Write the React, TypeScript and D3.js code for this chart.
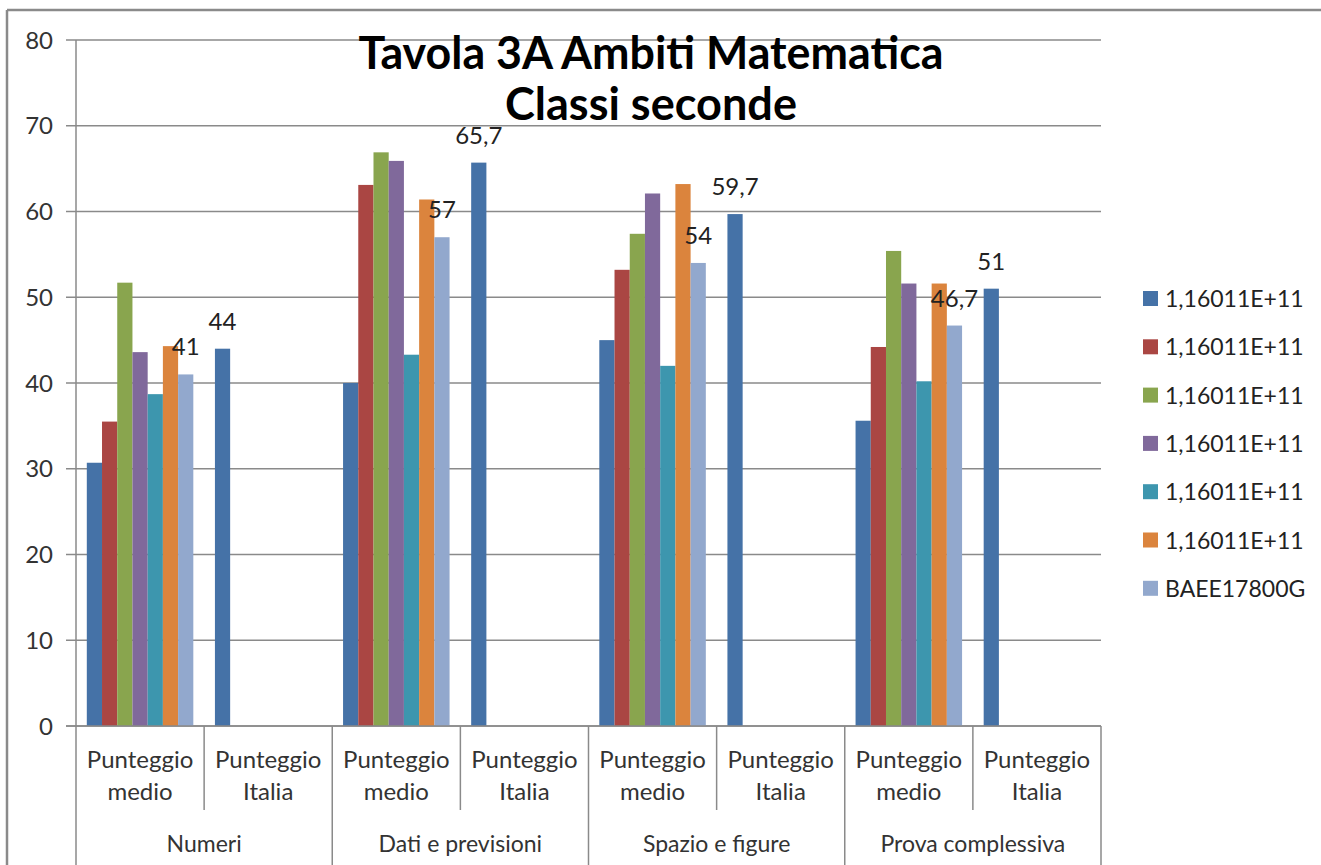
import React from "react";
import * as d3 from "d3";

const groups = ["Numeri", "Dati e previsioni", "Spazio e figure", "Prova complessiva"];
const subCategories = [["Punteggio", "medio"], ["Punteggio", "Italia"]];
const seriesNames = [
  "1,16011E+11",
  "1,16011E+11",
  "1,16011E+11",
  "1,16011E+11",
  "1,16011E+11",
  "1,16011E+11",
  "BAEE17800G",
];
const colors = ["#4572A7", "#AA4643", "#89A54E", "#80699B", "#3D96AE", "#DB843D", "#92A8CD"];

// "Punteggio medio" values per group, one array per series
const medio1 = [30.7, 40.0, 45.0, 35.6];
const medio2 = [35.5, 63.1, 53.2, 44.2];
const medio3 = [51.7, 66.9, 57.4, 55.4];
const medio4 = [43.6, 65.9, 62.1, 51.6];
const medio5 = [38.7, 43.3, 42.0, 40.2];
const medio6 = [44.3, 61.4, 63.2, 51.6];
const medio7 = [41, 57, 54, 46.7];
// "Punteggio Italia" (only first series)
const italia1 = [44, 65.7, 59.7, 51];

const yTicks = [0, 10, 20, 30, 40, 50, 60, 70, 80];
const titleLines = ["Tavola 3A Ambiti Matematica", "Classi seconde"];

const medioSeries = [medio1, medio2, medio3, medio4, medio5, medio6, medio7];

const fmt = (v: number) => String(v).replace(".", ",");

export default function App() {
  const W = 1321;
  const H = 865;
  const left = 76;
  const right = 1101;
  const top = 40;
  const bottom = 726;
  const font = "Lato, 'Open Sans', sans-serif";
  const grey = "#8a8a8a";

  const catKeys: string[] = [];
  groups.forEach((g, gi) => subCategories.forEach((_, si) => catKeys.push(gi + "-" + si)));

  const x0 = d3.scaleBand<string>().domain(catKeys).range([left, right]).paddingInner(0).paddingOuter(0);
  const x1 = d3
    .scaleBand<number>()
    .domain(d3.range(seriesNames.length))
    .range([0, x0.bandwidth()])
    .paddingInner(0)
    .paddingOuter(0.71);
  const y = d3.scaleLinear().domain([0, 80]).range([bottom, top]);

  type Bar = { key: string; cat: string; s: number; v: number; label: boolean };
  const bars: Bar[] = [];
  groups.forEach((g, gi) => {
    medioSeries.forEach((arr, s) => {
      bars.push({ key: `m${gi}-${s}`, cat: gi + "-0", s, v: arr[gi], label: s === 6 });
    });
    bars.push({ key: `i${gi}`, cat: gi + "-1", s: 0, v: italia1[gi], label: true });
  });

  const step = x0.step();

  return (
    <svg
      width={W}
      height={H}
      style={{ position: "absolute", left: 0, top: 0, display: "block", background: "#fff" }}
      fontFamily={font}
    >
      <rect x={0} y={0} width={W} height={H} fill="#fff" />
      {/* outer frame */}
      <line x1={7} x2={W} y1={10} y2={10} stroke={grey} strokeWidth={2.5} />
      <line x1={7} x2={7} y1={10} y2={H} stroke={grey} strokeWidth={2.5} />

      {/* gridlines + y ticks */}
      {yTicks.map((t) => (
        <g key={t}>
          <line x1={left - 10} x2={right} y1={y(t)} y2={y(t)} stroke={grey} strokeWidth={1.5} />
          <text x={53} y={y(t) + 8.5} textAnchor="end" fontSize={24} fill="#333">
            {t}
          </text>
        </g>
      ))}
      <line x1={left} x2={left} y1={top} y2={bottom} stroke={grey} strokeWidth={1.5} />

      {/* bars */}
      {bars.map((b) => {
        const bx = (x0(b.cat) as number) + (x1(b.s) as number);
        return (
          <rect
            key={b.key}
            x={bx}
            y={y(b.v)}
            width={x1.bandwidth()}
            height={bottom - y(b.v)}
            fill={colors[b.s]}
          />
        );
      })}

      {/* data labels */}
      {bars
        .filter((b) => b.label)
        .map((b) => {
          const cx = (x0(b.cat) as number) + (x1(b.s) as number) + x1.bandwidth() / 2;
          return (
            <text key={"l" + b.key} x={cx} y={y(b.v) - 19} textAnchor="middle" fontSize={24} fill="#222">
              {fmt(b.v)}
            </text>
          );
        })}

      {/* category axis */}
      <line x1={left - 10} x2={right} y1={bottom} y2={bottom} stroke={grey} strokeWidth={1.5} />
      {catKeys.map((k, i) => {
        const sx = (x0(k) as number) + step;
        const isGroupEnd = i % 2 === 1;
        return (
          <line
            key={"d" + k}
            x1={sx}
            x2={sx}
            y1={bottom}
            y2={isGroupEnd ? H : 810}
            stroke={grey}
            strokeWidth={1.5}
          />
        );
      })}
      <line x1={left} x2={left} y1={bottom} y2={H} stroke={grey} strokeWidth={1.5} />
      {catKeys.map((k, i) => {
        const cx = (x0(k) as number) + step / 2;
        const lines = subCategories[i % 2];
        return (
          <text key={"c" + k} x={cx} textAnchor="middle" fontSize={24} fill="#333">
            <tspan x={cx} y={768}>
              {lines[0]}
            </tspan>
            <tspan x={cx} y={800}>
              {lines[1]}
            </tspan>
          </text>
        );
      })}
      {groups.map((g, gi) => {
        const cx = (x0(gi + "-0") as number) + step;
        return (
          <text key={"g" + g} x={cx} y={852} textAnchor="middle" fontSize={23} fill="#333">
            {g}
          </text>
        );
      })}

      {/* title */}
      <text x={651} y={69} textAnchor="middle" fontSize={46} fontWeight="bold" fill="#000" textLength={585} lengthAdjust="spacingAndGlyphs">
        {titleLines[0]}
      </text>
      <text x={651} y={120} textAnchor="middle" fontSize={46} fontWeight="bold" fill="#000" textLength={292} lengthAdjust="spacingAndGlyphs">
        {titleLines[1]}
      </text>

      {/* legend */}
      {seriesNames.map((n, i) => {
        const by = 307 + i * 48.3;
        return (
          <g key={"lg" + i}>
            <rect x={1143} y={by - 16} width={15} height={15} fill={colors[i]} />
            <text x={1165} y={by} fontSize={23} fill="#222">
              {n}
            </text>
          </g>
        );
      })}
    </svg>
  );
}
